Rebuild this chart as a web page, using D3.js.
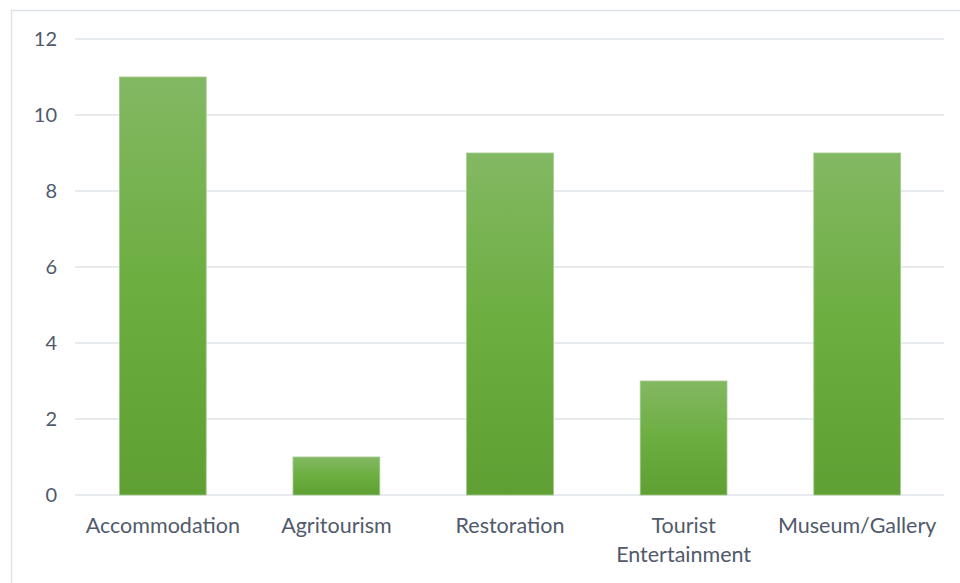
<!DOCTYPE html>
<html>
<head>
<meta charset="utf-8">
<script src="https://cdn.jsdelivr.net/npm/d3@7"></script>
<style>
  body { margin: 0; background: #fff; }
  text { font-family: Lato, "Open Sans", sans-serif; }
</style>
</head>
<body>
<script>
var categories = ["Accommodation", "Agritourism", "Restoration", "Tourist Entertainment", "Museum/Gallery"];
var labelLines = [["Accommodation"], ["Agritourism"], ["Restoration"], ["Tourist", "Entertainment"], ["Museum/Gallery"]];
var values = [11, 1, 9, 3, 9];
var yTicks = [0, 2, 4, 6, 8, 10, 12];

const width = 960;
const height = 583;
const plot = {left: 76, right: 944, top: 39, bottom: 495};

const svg = d3.select('body')
              .append('svg')
                .attr('width', width)
                .attr('height', height);

// chart frame
svg.append('rect')
   .attr('x', 11.5).attr('y', 10.5)
   .attr('width', 960).attr('height', 600)
   .attr('fill', 'none')
   .attr('stroke', '#dde1e8')
   .attr('stroke-width', 1.5);

const defs = svg.append('defs');
const grad = defs.append('linearGradient')
                 .attr('id', 'barGrad')
                 .attr('x1', 0).attr('y1', 0).attr('x2', 0).attr('y2', 1);
grad.append('stop').attr('offset', '0%').attr('stop-color', '#83b863');
grad.append('stop').attr('offset', '50%').attr('stop-color', '#6cae40');
grad.append('stop').attr('offset', '100%').attr('stop-color', '#5f9f33');

const xScale = d3.scaleBand()
                 .domain(categories)
                 .range([plot.left, plot.right])
                 .paddingInner(0.5)
                 .paddingOuter(0.25);

const yScale = d3.scaleLinear()
                 .domain([0, 12])
                 .range([plot.bottom, plot.top]);

// gridlines
svg.append('g')
   .selectAll('line')
   .data(yTicks)
   .enter()
     .append('line')
       .attr('x1', plot.left - 1)
       .attr('x2', plot.right)
       .attr('y1', d => yScale(d))
       .attr('y2', d => yScale(d))
       .attr('stroke', '#dfe3e9')
       .attr('stroke-width', 1.5);

// y axis labels
const yAxis = svg.append('g')
   .attr('transform', `translate(${plot.left}, 0)`)
   .call(d3.axisLeft(yScale).tickValues(yTicks).tickSize(0).tickPadding(19));
yAxis.select('.domain').remove();
yAxis.selectAll('text')
     .attr('font-size', 20)
     .attr('fill', '#505a6b')
     .style('font-family', 'Lato, sans-serif');

// bars
svg.append('g')
   .selectAll('rect')
   .data(values)
   .enter()
     .append('rect')
       .attr('x', (d, i) => xScale(categories[i]))
       .attr('y', d => yScale(d))
       .attr('width', xScale.bandwidth())
       .attr('height', d => yScale(0) - yScale(d))
       .attr('fill', 'url(#barGrad)')
       .attr('stroke', '#a3cb8a')
       .attr('stroke-width', 0.8);

// category labels
const xLabels = svg.append('g')
   .selectAll('text')
   .data(categories)
   .enter()
     .append('text')
       .attr('x', d => xScale(d) + xScale.bandwidth() / 2)
       .attr('y', 533)
       .attr('text-anchor', 'middle')
       .attr('font-size', 21.5)
       .attr('fill', '#505a6b');
xLabels.each(function(d, i) {
  const t = d3.select(this);
  labelLines[i].forEach((line, j) => {
    t.append('tspan')
     .attr('x', xScale(d) + xScale.bandwidth() / 2)
     .attr('dy', j === 0 ? 0 : 29)
     .text(line);
  });
});
</script>
</body>
</html>
